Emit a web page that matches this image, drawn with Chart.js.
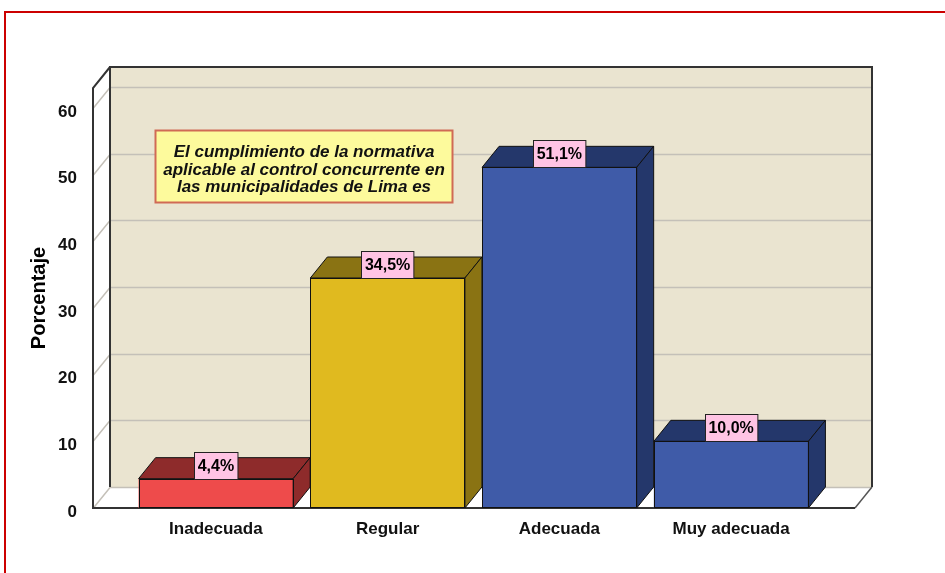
<!DOCTYPE html>
<html>
<head>
<meta charset="utf-8">
<script src="https://cdn.jsdelivr.net/npm/chart.js@4.4.1/dist/chart.umd.min.js"></script>
<style>
  body { margin: 0; background: #fff; overflow: hidden; }
  #frame { position: absolute; left: 4px; top: 11px; width: 1000px; height: 700px; border: 2px solid #cc0000; }
  canvas { position: absolute; left: 0; top: 0; }
</style>
</head>
<body>
<div id="frame"></div>
<canvas id="chart" width="945" height="573"></canvas>
<script>
// --- data ---
const categories = ['Inadecuada', 'Regular', 'Adecuada', 'Muy adecuada'];
const percentages = [4.4, 34.5, 51.1, 10.0];
const valueLabels = ['4,4%', '34,5%', '51,1%', '10,0%'];
const yTicks = [0, 10, 20, 30, 40, 50, 60];
const noteLines = [
    'El cumplimiento de la normativa',
    'aplicable al control concurrente en',
    'las municipalidades de Lima es'
];

const frontColors = ['#EE4B4B', '#E0BA1F', '#3F5BA8', '#3F5BA8'];
const shadeColors = ['#8E2B2B', '#8A7313', '#24376B', '#24376B'];

// 3D look
const DX = 17, DY = 21;          // depth offset
const PAD_L = 37, PAD_R = 38;    // floor extension past the category band

function poly(ctx, pts, fill, stroke, lw) {
    ctx.beginPath();
    ctx.moveTo(pts[0][0], pts[0][1]);
    for (let i = 1; i < pts.length; i++) ctx.lineTo(pts[i][0], pts[i][1]);
    ctx.closePath();
    if (fill) { ctx.fillStyle = fill; ctx.fill(); }
    if (stroke) { ctx.strokeStyle = stroke; ctx.lineWidth = lw || 1; ctx.stroke(); }
}

const box3d = {
    id: 'box3d',
    beforeDatasetsDraw(chart) {
        const ctx = chart.ctx;
        const a = chart.chartArea;
        const y = chart.scales.y;
        const L = a.left - PAD_L, R = a.right + PAD_R;
        const T = a.top, B = a.bottom;
        ctx.save();
        // back wall
        poly(ctx, [[L + DX, T - DY], [R + DX, T - DY], [R + DX, B - DY], [L + DX, B - DY]], '#EAE4D0');
        // left wall + floor
        poly(ctx, [[L, T], [L + DX, T - DY], [L + DX, B - DY], [L, B]], '#ffffff');
        poly(ctx, [[L, B], [L + DX, B - DY], [R + DX, B - DY], [R, B]], '#ffffff');
        // grid lines
        ctx.strokeStyle = '#C4C0B8';
        ctx.lineWidth = 1.5;
        yTicks.forEach(v => {
            const py = Math.round(y.getPixelForValue(v)) + 0.5;
            ctx.beginPath();
            ctx.moveTo(L, py);
            ctx.lineTo(L + DX, py - DY);
            ctx.lineTo(R + DX, py - DY);
            ctx.stroke();
        });
        // floor front edge
        ctx.beginPath();
        ctx.moveTo(R + DX, B - DY);
        ctx.lineTo(R, B);
        ctx.strokeStyle = '#555';
        ctx.stroke();
        // box outlines
        ctx.strokeStyle = '#333';
        ctx.lineWidth = 2;
        ctx.beginPath();
        ctx.moveTo(L + DX, B - DY);
        ctx.lineTo(L + DX, T - DY);
        ctx.lineTo(R + DX, T - DY);
        ctx.lineTo(R + DX, B - DY);
        ctx.stroke();
        ctx.beginPath();
        ctx.moveTo(L + DX, T - DY);
        ctx.lineTo(L, T);
        ctx.lineTo(L, B);
        ctx.lineTo(R, B);
        ctx.stroke();
        ctx.restore();
    },
    afterDatasetsDraw(chart) {
        const ctx = chart.ctx;
        const meta = chart.getDatasetMeta(0);
        ctx.save();
        meta.data.forEach((bar, i) => {
            const l = bar.x - bar.width / 2, r = bar.x + bar.width / 2;
            const t = bar.y, b = bar.base;
            poly(ctx, [[l, t], [r, t], [r + DX, t - DY], [l + DX, t - DY]], shadeColors[i], '#111', 1);
            poly(ctx, [[r, t], [r + DX, t - DY], [r + DX, b - DY], [r, b]], shadeColors[i], '#111', 1);
            ctx.strokeStyle = '#111';
            ctx.lineWidth = 1;
            ctx.strokeRect(Math.round(l) + 0.5, Math.round(t) + 0.5, Math.round(r - l) - 1, Math.round(b - t) - 1);

            // value label
            ctx.font = 'bold 16px "Liberation Sans", Arial, sans-serif';
            const w = ctx.measureText(valueLabels[i]).width + 7;
            const h = 27;
            const bx = Math.round(bar.x - w / 2) + 0.5, by = Math.round(t - h) + 0.5;
            ctx.fillStyle = '#FFC4E4';
            ctx.fillRect(bx, by, w, h);
            ctx.strokeStyle = '#222';
            ctx.strokeRect(bx, by, w, h);
            ctx.fillStyle = '#000';
            ctx.textAlign = 'center';
            ctx.textBaseline = 'middle';
            ctx.fillText(valueLabels[i], bar.x, t - h / 2 + 1);
        });
        ctx.restore();
    },
    afterDraw(chart) {
        // note box
        const ctx = chart.ctx;
        ctx.save();
        const bx = 155.5, by = 130.5, bw = 297, bh = 72;
        ctx.fillStyle = '#FDFA9C';
        ctx.fillRect(bx, by, bw, bh);
        ctx.strokeStyle = '#D06A55';
        ctx.lineWidth = 2;
        ctx.strokeRect(bx, by, bw, bh);
        ctx.fillStyle = '#111';
        ctx.font = 'italic bold 17px "Liberation Sans", Arial, sans-serif';
        ctx.textAlign = 'center';
        ctx.textBaseline = 'middle';
        noteLines.forEach((s, i) => ctx.fillText(s, bx + bw / 2, by + 22 + i * 17.5));
        ctx.restore();
    }
};

new Chart(document.getElementById('chart'), {
    type: 'bar',
    data: {
        labels: categories,
        datasets: [{
            data: percentages,
            backgroundColor: frontColors,
            borderWidth: 0,
            categoryPercentage: 1,
            barPercentage: 0.9
        }]
    },
    options: {
        responsive: false,
        animation: false,
        layout: { padding: { top: 88, right: 128, bottom: 0, left: 0 } },
        plugins: { legend: { display: false }, tooltip: { enabled: false } },
        scales: {
            x: {
                grid: { display: false },
                border: { display: false },
                afterFit: s => { s.height = 65; },
                ticks: { color: '#111', padding: 3, font: { family: '"Liberation Sans", Arial', size: 17, weight: 'bold' } }
            },
            y: {
                min: 0,
                max: 63,
                afterBuildTicks: s => { s.ticks = yTicks.map(v => ({ value: v })); },
                afterFit: s => { s.width = 130; },
                grid: { display: false },
                border: { display: false },
                ticks: { color: '#111', padding: 45, labelOffset: 4, font: { family: '"Liberation Sans", Arial', size: 17, weight: 'bold' } },
                title: {
                    display: true,
                    text: 'Porcentaje',
                    color: '#000',
                    padding: { top: 27, bottom: 0 },
                    font: { family: '"Liberation Sans", Arial', size: 20, weight: 'bold' }
                }
            }
        }
    },
    plugins: [box3d]
});
</script>
</body>
</html>
